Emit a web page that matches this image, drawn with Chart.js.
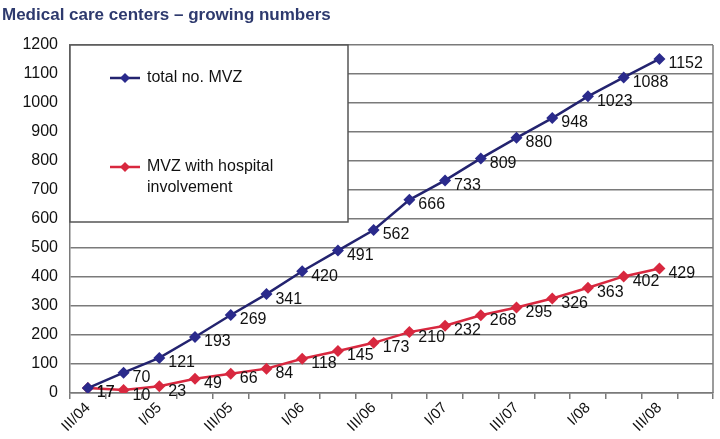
<!DOCTYPE html>
<html>
<head>
<meta charset="utf-8">
<script src="https://cdn.jsdelivr.net/npm/chart.js@4.4.0/dist/chart.umd.min.js"></script>
<style>
  html, body { margin: 0; padding: 0; background: #fff; }
  #wrap { width: 720px; height: 439px; position: relative; }
</style>
</head>
<body>
<div id="wrap"><canvas id="c"></canvas></div>
<script>
// quarters III/04 .. III/08, plus one empty slot at the end (as in the original)
const quarters = ['III/04', '', 'I/05', '', 'III/05', '', 'I/06', '', 'III/06', '', 'I/07', '', 'III/07', '', 'I/08', '', 'III/08', ''];
const totalMVZ = [17, 70, 121, 193, 269, 341, 420, 491, 562, 666, 733, 809, 880, 948, 1023, 1088, 1152];
const hospitalMVZ = [17, 10, 23, 49, 66, 84, 118, 145, 173, 210, 232, 268, 295, 326, 363, 402, 429];
const yTicks = [0, 100, 200, 300, 400, 500, 600, 700, 800, 900, 1000, 1100, 1200];

const TITLE = 'Medical care centers \u2013 growing numbers';
const BLUE = '#23236f';
const BLUE_MK = '#2a2a8c';
const RED = '#d8283f';
const GRID = '#7a7a7a';
const FONT = 'Arial, "Liberation Sans", sans-serif';

// title, plot frame and legend box
const decor = {
  id: 'decor',
  beforeDatasetsDraw(chart) {
    const { ctx, chartArea: a } = chart;
    ctx.save();
    // right border of plot area
    ctx.strokeStyle = GRID;
    ctx.lineWidth = 1.5;
    ctx.beginPath();
    ctx.moveTo(a.right, a.top);
    ctx.lineTo(a.right, a.bottom);
    ctx.stroke();
    // legend box
    const bx = a.left, by = a.top, bw = 278, bh = 177;
    ctx.fillStyle = '#fff';
    ctx.fillRect(bx, by, bw, bh);
    ctx.strokeStyle = '#555';
    ctx.lineWidth = 1.5;
    ctx.strokeRect(bx, by, bw, bh);
    const entries = [
      { color: BLUE, mk: BLUE_MK, y: 78, lines: ['total no. MVZ'] },
      { color: RED, mk: RED, y: 167, lines: ['MVZ with hospital', 'involvement'] }
    ];
    ctx.font = '16px ' + FONT;
    ctx.textBaseline = 'middle';
    entries.forEach(e => {
      ctx.strokeStyle = e.color;
      ctx.lineWidth = 2.5;
      ctx.beginPath();
      ctx.moveTo(110, e.y);
      ctx.lineTo(140, e.y);
      ctx.stroke();
      ctx.fillStyle = e.mk;
      ctx.beginPath();
      ctx.moveTo(125, e.y - 5);
      ctx.lineTo(130, e.y);
      ctx.lineTo(125, e.y + 5);
      ctx.lineTo(120, e.y);
      ctx.closePath();
      ctx.fill();
      ctx.fillStyle = '#111';
      e.lines.forEach((t, i) => ctx.fillText(t, 147, e.y + i * 21));
    });
    ctx.restore();
  },
  afterDraw(chart) {
    const { ctx } = chart;
    ctx.save();
    ctx.font = 'bold 17px ' + FONT;
    ctx.fillStyle = '#2e3a6e';
    ctx.textBaseline = 'middle';
    ctx.fillText(TITLE, 2, 15);
    ctx.restore();
  }
};

// value labels right of each point
const valueLabels = {
  id: 'valueLabels',
  afterDatasetsDraw(chart) {
    const { ctx } = chart;
    ctx.save();
    ctx.font = '16px ' + FONT;
    ctx.fillStyle = '#111';
    ctx.textBaseline = 'middle';
    chart.data.datasets.forEach((ds, di) => {
      chart.getDatasetMeta(di).data.forEach((pt, i) => {
        ctx.fillText(String(ds.data[i]), pt.x + 9, pt.y + 5);
      });
    });
    ctx.restore();
  }
};

new Chart(document.getElementById('c'), {
  type: 'line',
  data: {
    labels: quarters,
    datasets: [
      {
        label: 'total no. MVZ',
        data: totalMVZ,
        borderColor: BLUE,
        backgroundColor: BLUE_MK,
        borderWidth: 2.5,
        pointStyle: 'rectRot',
        pointRadius: 6,
        pointBorderWidth: 0,
        tension: 0
      },
      {
        label: 'MVZ with hospital involvement',
        data: hospitalMVZ,
        borderColor: RED,
        backgroundColor: RED,
        borderWidth: 2.5,
        pointStyle: 'rectRot',
        pointRadius: 6,
        pointBorderWidth: 0,
        tension: 0
      }
    ]
  },
  options: {
    responsive: true,
    maintainAspectRatio: false,
    animation: false,
    layout: { padding: { top: 45, right: 7, left: 0, bottom: 0 } },
    plugins: {
      legend: { display: false },
      title: { display: false },
      tooltip: { enabled: false }
    },
    scales: {
      x: {
        offset: true,
        afterFit(s) { s.height = 46; },
        grid: { offset: true, drawOnChartArea: false, color: GRID, lineWidth: 1.5, tickLength: 6 },
        border: { color: GRID, width: 1.5 },
        ticks: {
          autoSkip: false,
          minRotation: 45,
          maxRotation: 45,
          padding: 0,
          color: '#111',
          font: { family: FONT, size: 15 }
        }
      },
      y: {
        min: 0,
        max: 1200,
        afterFit(s) { s.width = 70; },
        afterBuildTicks(s) { s.ticks = yTicks.map(v => ({ value: v })); },
        grid: { color: GRID, lineWidth: 1.5, drawTicks: false },
        border: { color: GRID, width: 1.5 },
        ticks: {
          padding: 12,
          color: '#111',
          font: { family: FONT, size: 16 },
          callback: v => String(v)
        }
      }
    }
  },
  plugins: [decor, valueLabels]
});
</script>
</body>
</html>
